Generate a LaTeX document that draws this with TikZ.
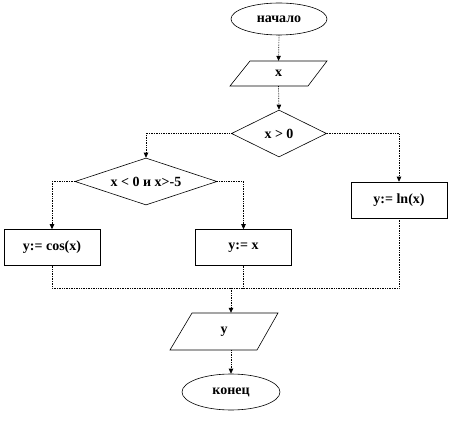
\documentclass[tikz,border=0pt]{standalone}
\usepackage{fontspec}
\setmainfont{Liberation Serif}
\usetikzlibrary{shapes.geometric,arrows.meta,calc}
\begin{document}
\begin{tikzpicture}[x=1pt,y=-1pt,
  txt/.style={font=\fontsize{14}{16}\selectfont\bfseries},
  term/.style={ellipse,draw,line width=0.6pt,inner sep=0pt,txt},
  dec/.style={diamond,draw,line width=0.6pt,inner sep=0pt,aspect=3,txt},
  proc/.style={rectangle,draw,line width=0.6pt,inner sep=0pt,minimum width=96pt,minimum height=36pt,txt},
  io/.style={rectangle,inner sep=0pt,txt},
  conn/.style={line width=0.7pt,densely dotted},
  arr/.style={conn,-{Triangle[length=5pt,width=4.5pt]}}]
\useasboundingbox (0,0) rectangle (450,422);
\fill[white] (0,0) rectangle (450,422);
% terminals
\node[term,minimum width=96pt,minimum height=32pt] (start) at (279,19) {начало};
\node[term,minimum width=98pt,minimum height=36pt] (en) at (231,392) {конец};
% input / output parallelograms
\node[io,minimum width=97pt,minimum height=25pt] (px) at (278.5,73.5) {x};
\draw[line width=0.6pt] (250,61) -- (327,61) -- (308,86) -- (230,86) -- cycle;
\node[io,minimum width=108pt,minimum height=37pt] (py) at (224,331.5) {y};
\draw[line width=0.6pt] (192,313) -- (278,313) -- (257,350) -- (170,350) -- cycle;
% decisions
\node[dec,minimum width=95pt,minimum height=47pt] (d1) at (279,133.5) {x > 0};
\node[dec,minimum width=142pt,minimum height=47pt] (d2) at (146,181.5) {x < 0 и x>-5};
% processes
\node[proc] (bcos) at (52,247.5) {y:= cos(x)};
\node[proc] (bx) at (243.5,247.5) {y:= x};
\node[proc] (bln) at (399,200) {y:= ln(x)};
\coordinate (j) at (231,288);
% connectors
\draw[arr] (start.south) -- (px.north);
\draw[arr] (px.south) -- (d1.north);
\draw[arr] (d1.west) -| (d2.north);
\draw[arr] (d1.east) -| (bln.north);
\draw[arr] (d2.west) -| (bcos.north);
\draw[arr] (d2.east) -| (bx.north);
\draw[conn] (bcos.south) -- (bcos.south |- j) -- (bln.south |- j) -- (bln.south);
\draw[conn] (bx.south) -- (bx.south |- j);
\draw[arr] (j) -- (py.north -| j);
\draw[arr] (py.south -| en) -- (en.north);
\end{tikzpicture}
\end{document}
